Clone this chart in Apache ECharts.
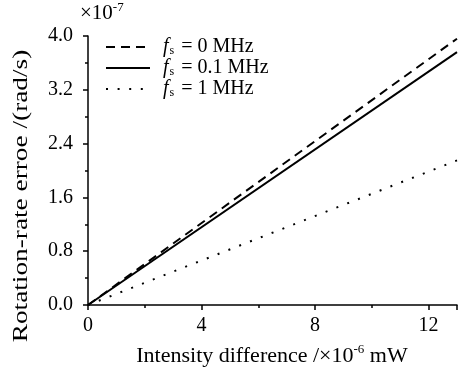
<!DOCTYPE html>
<html>
<head>
<meta charset="utf-8">
<script src="https://cdn.jsdelivr.net/npm/echarts@6/dist/echarts.min.js"></script>
<style>
html,body{margin:0;padding:0;background:#fff;}
#c{width:460px;height:372px;}
</style>
</head>
<body>
<div id="c"></div>
<script>
// Data (x in 1e-6 mW, y in 1e-7 rad/s)
const xValues = [0, 13];
const seriesNames = ['fs0', 'fs01', 'fs1'];
const legendLabels = ['0 MHz', '0.1 MHz', '1 MHz'];
const fs0 = [0, 3.96];
const fs01 = [0, 3.76];
const fs1 = [0, 2.15];
const xTicks = [0, 4, 8, 12];
const yTicks = [0.0, 0.8, 1.6, 2.4, 3.2, 4.0];

const FONT = '"Liberation Serif", "DejaVu Serif", serif';
const chart = echarts.init(document.getElementById('c'), null, {renderer: 'canvas'});

function pairs(ys) { return xValues.map((x, i) => [x, ys[i]]); }

const styles = [
  {type: [9, 6], width: 2},
  {type: 'solid', width: 2},
  {type: [2, 9.6], width: 2}
];
const allData = [fs0, fs01, fs1];

chart.setOption({
  animation: false,
  grid: {left: 88, right: 0, top: 36, bottom: 67, containLabel: false},
  xAxis: {
    type: 'value', min: 0, max: 13, interval: 4,
    axisLine: {show: true, lineStyle: {color: '#000', width: 1.5}},
    axisTick: {show: true, inside: false, length: 5, lineStyle: {color: '#000', width: 1.5}},
    minorTick: {show: true, splitNumber: 2, length: 3, lineStyle: {color: '#000', width: 1.5}},
    splitLine: {show: false},
    axisLabel: {color: '#000', fontFamily: FONT, fontSize: 20, margin: 11,
      formatter: v => xTicks.includes(v) ? String(v) : ''}
  },
  yAxis: {
    type: 'value', min: 0, max: 4.0, interval: 0.8,
    axisLine: {show: true, lineStyle: {color: '#000', width: 1.5}},
    axisTick: {show: true, inside: false, length: 5, lineStyle: {color: '#000', width: 1.5}},
    minorTick: {show: true, splitNumber: 2, length: 3, lineStyle: {color: '#000', width: 1.5}},
    splitLine: {show: false},
    axisLabel: {color: '#000', fontFamily: FONT, fontSize: 20, margin: 15,
      formatter: v => v.toFixed(1)}
  },
  legend: {
    show: true,
    orient: 'vertical',
    left: 100, top: 32,
    itemWidth: 44, itemHeight: 14, itemGap: 1,
    data: seriesNames,
    itemStyle: {opacity: 0},
    formatter: name => {
      const i = seriesNames.indexOf(name);
      return '{f|f}{s|s}{t| = ' + legendLabels[i] + '}';
    },
    textStyle: {
      color: '#000', fontFamily: FONT, fontSize: 20, lineHeight: 20,
      rich: {
        f: {fontFamily: FONT, fontStyle: 'italic', fontSize: 20, lineHeight: 20, color: '#000', padding: [0, 0, 0, 8]},
        s: {fontFamily: FONT, fontSize: 12, lineHeight: 20, color: '#000', verticalAlign: 'bottom', padding: [6, 2, 0, 1]},
        t: {fontFamily: FONT, fontSize: 20, lineHeight: 20, color: '#000'}
      }
    }
  },
  series: seriesNames.map((n, i) => ({
    name: n, type: 'line', data: pairs(allData[i]),
    showSymbol: false, symbol: 'none',
    lineStyle: {color: '#000', width: styles[i].width, type: styles[i].type},
    itemStyle: {color: '#000'}
  })),
  graphic: [
    {type: 'text', left: 80, top: 1, style: {
      text: '{a|×10}{b|-7}', fill: '#000',
      rich: {a: {fontFamily: FONT, fontSize: 21, fill: '#000'}, b: {fontFamily: FONT, fontSize: 13, fill: '#000', padding: [0, 0, 12, 0]}}
    }},
    {type: 'text', x: 21, y: 196, rotation: Math.PI / 2, scaleX: 1.3, style: {
      text: 'Rotation-rate erroe /(rad/s)', fill: '#000', font: '21px ' + FONT,
      align: 'center', verticalAlign: 'middle'
    }},
    {type: 'text', x: 272, y: 356, style: {
      text: '{a|Intensity difference /×10}{b|-6}{a| mW}', fill: '#000',
      align: 'center', verticalAlign: 'middle',
      rich: {a: {fontFamily: FONT, fontSize: 22, fill: '#000'}, b: {fontFamily: FONT, fontSize: 13, fill: '#000', padding: [0, 0, 12, 0]}}
    }}
  ]
});
</script>
</body>
</html>
